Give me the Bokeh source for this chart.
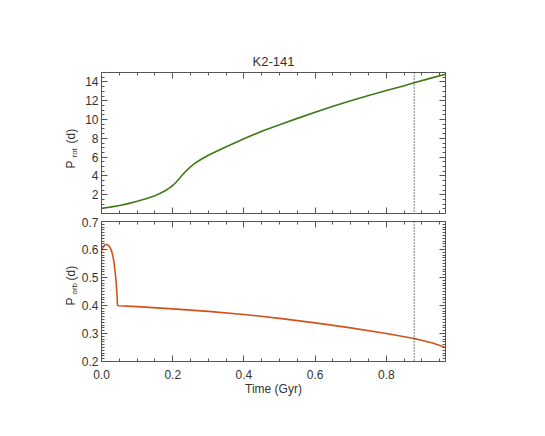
import numpy as np
from bokeh.plotting import figure
from bokeh.layouts import column, row
from bokeh.models import (Range1d, LinearAxis, FixedTicker, Span,
                          NumeralTickFormatter, CustomLabelingPolicy)
from bokeh.core.properties import value
from bokeh.embed import file_html
from bokeh.resources import INLINE

# ---------------- data ----------------
title_text = "K2-141"
t_rot = [0.0, 0.025, 0.05, 0.075, 0.10, 0.125, 0.15, 0.165, 0.18, 0.19, 0.20,
         0.21, 0.22, 0.23, 0.24, 0.25, 0.26, 0.27, 0.28, 0.30, 0.35, 0.40,
         0.45, 0.50, 0.55, 0.60, 0.65, 0.70, 0.75, 0.80, 0.85, 0.878, 0.92, 0.966]
p_rot = [0.55, 0.68, 0.85, 1.05, 1.30, 1.58, 1.90, 2.15, 2.45, 2.70, 2.98,
         3.35, 3.78, 4.22, 4.62, 4.97, 5.27, 5.53, 5.77, 6.20, 7.10, 7.95,
         8.75, 9.45, 10.12, 10.78, 11.40, 12.00, 12.55, 13.08, 13.60, 13.90, 14.35, 14.82]

t_orb = [0.0, 0.005, 0.010, 0.015, 0.020, 0.025, 0.030, 0.035, 0.040, 0.043,
         0.045, 0.046, 0.050, 0.10, 0.20, 0.30, 0.40, 0.50, 0.60, 0.70, 0.80,
         0.878, 0.93, 0.966]
p_orb = [0.595, 0.610, 0.617, 0.618, 0.614, 0.605, 0.588, 0.555, 0.500, 0.450,
         0.400, 0.400, 0.399, 0.396, 0.388, 0.379, 0.368, 0.354, 0.338, 0.320,
         0.300, 0.282, 0.266, 0.250]

age_marker = 0.878

x_range = (0.0, 0.966)
rot_range = (0.0, 15.0)
orb_range = (0.2, 0.7)

x_major = [0.0, 0.2, 0.4, 0.6, 0.8]
x_minor = [round(v, 3) for v in np.arange(0.0, 0.966, 0.05)]
rot_major = [0, 2, 4, 6, 8, 10, 12, 14]
rot_minor = [round(v, 2) for v in np.arange(0.0, 15.01, 0.5)]
orb_major = [0.2, 0.3, 0.4, 0.5, 0.6, 0.7]
orb_minor = [round(v, 3) for v in np.arange(0.2, 0.7001, 0.01)]

ylabel_rot = ["P", "rot", "(d)"]
ylabel_orb = ["P", "orb", "(d)"]

# ---------------- style ----------------
FONT = "Liberation Sans"
TXT = "#333333"
AX = "#555555"
GREEN = "#3f7a16"
ORANGE = "#d4521a"
LABEL_W = 78
LEFT = 22
RIGHT = 95
W = LEFT + 345 + RIGHT
H_TOP = 217
H_BOT = 214
H_ALL = H_TOP + H_BOT

NO_LABELS = "for (let i = 0; i < indices.size; i++) { indices.unset(i) }\nreturn indices"


def style_axis(ax, ticker_major, ticker_minor, show_labels):
    ax.ticker = FixedTicker(ticks=ticker_major, minor_ticks=ticker_minor)
    ax.axis_line_color = AX
    ax.axis_line_width = 1
    ax.major_tick_line_color = AX
    ax.minor_tick_line_color = AX
    ax.major_tick_in = 6
    ax.major_tick_out = 0
    ax.minor_tick_in = 3
    ax.minor_tick_out = 0
    ax.major_label_text_font = FONT
    ax.major_label_text_color = TXT
    if show_labels:
        ax.major_label_text_font_size = "12px"
        ax.major_label_standoff = 3
    else:
        ax.major_label_text_font_size = "1px"
        ax.major_label_standoff = 0
        ax.major_label_policy = CustomLabelingPolicy(code=NO_LABELS)
    ax.axis_label_text_font = FONT
    ax.axis_label_text_font_style = "normal"
    ax.axis_label_text_font_size = "12px"
    ax.axis_label_text_color = TXT


def make_fig(height, yr, border_top, border_bottom):
    p = figure(width=W, height=height, x_range=Range1d(*x_range),
               y_range=Range1d(*yr), output_backend="svg",
               toolbar_location=None, x_axis_location=None,
               y_axis_location=None, min_border_left=LEFT,
               min_border_right=RIGHT, min_border_top=border_top,
               min_border_bottom=border_bottom)
    p.grid.visible = False
    p.outline_line_color = None
    p.background_fill_color = "white"
    p.border_fill_color = "white"
    return p


# ---------------- top panel ----------------
top = make_fig(H_TOP, rot_range, 72, 0)
top.title.text = title_text
top.title.align = "center"
top.title.text_font = FONT
top.title.text_font_style = "normal"
top.title.text_font_size = "13px"
top.title.text_color = TXT
top.title.standoff = 0

ax_l = LinearAxis(); style_axis(ax_l, rot_major, rot_minor, True)
ax_l.major_label_overrides = {0: ""}
top.add_layout(ax_l, "left")
ax_r = LinearAxis(); style_axis(ax_r, rot_major, rot_minor, False)
top.add_layout(ax_r, "right")
ax_t = LinearAxis(); style_axis(ax_t, x_major, x_minor, False)
top.add_layout(ax_t, "above")
ax_b = LinearAxis(); style_axis(ax_b, x_major, x_minor, False)
top.add_layout(ax_b, "below")

top.line(t_rot, p_rot, line_color=GREEN, line_width=1.6)
top.add_layout(Span(location=age_marker, dimension="height",
                    line_color="black", line_width=1, line_dash="1 2"))

# ---------------- bottom panel ----------------
bot = make_fig(H_BOT, orb_range, 0, 70)

bx_l = LinearAxis(); style_axis(bx_l, orb_major, orb_minor, True)
bx_l.formatter = NumeralTickFormatter(format="0.0")
bot.add_layout(bx_l, "left")
bx_r = LinearAxis(); style_axis(bx_r, orb_major, orb_minor, False)
bot.add_layout(bx_r, "right")
bx_t = LinearAxis(); style_axis(bx_t, x_major, x_minor, False)
bot.add_layout(bx_t, "above")
bx_b = LinearAxis(axis_label="Time (Gyr)"); style_axis(bx_b, x_major, x_minor, True)
bx_b.formatter = NumeralTickFormatter(format="0.0")
bx_b.major_label_standoff = 8
bx_b.axis_label_standoff = 0
bot.add_layout(bx_b, "below")

bot.line(t_orb, p_orb, line_color=ORANGE, line_width=1.6)
bot.add_layout(Span(location=age_marker, dimension="height",
                    line_color="black", line_width=1, line_dash="1 2"))

# ---------------- y-axis titles (P with subscript) ----------------
lab = figure(width=LABEL_W, height=H_ALL, x_range=Range1d(0, LABEL_W),
             y_range=Range1d(0, H_ALL), output_backend="svg",
             toolbar_location=None, x_axis_location=None, y_axis_location=None,
             min_border=0)
lab.grid.visible = False
lab.outline_line_color = None
lab.border_fill_color = "white"
lab.background_fill_color = "white"


def add_ylabel(parts, y_from_top):
    xs = [70.5, 74, 70.5]
    sizes = ["12px", "8px", "12px"]
    for txt, yy, xx, sz in zip(parts, y_from_top, xs, sizes):
        lab.text(x=[xx], y=[H_ALL - yy], text=[txt], angle=np.pi / 2,
                 text_font=value(FONT), text_font_size=sz, text_color=TXT,
                 text_baseline="middle", text_align="left")


add_ylabel(ylabel_rot, [168, 157, 143])
add_ylabel(ylabel_orb, [305, 294, 280])

layout = row(lab, column(top, bot, spacing=0), spacing=0)
open("out.html", "w").write(file_html(layout, INLINE))
